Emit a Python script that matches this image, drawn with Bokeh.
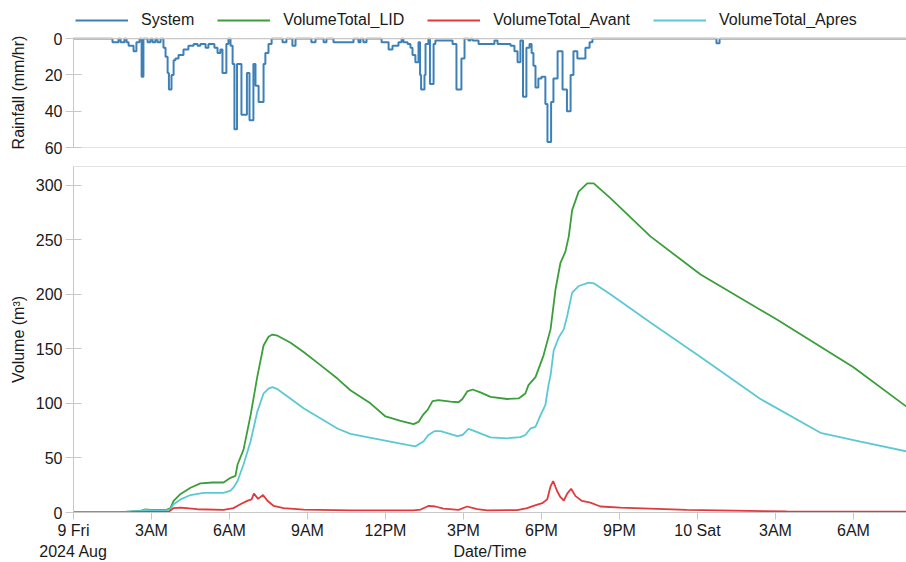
from bokeh.plotting import figure
from bokeh.layouts import column
from bokeh.models import (Range1d, FixedTicker, Legend, LegendItem, Span, LinearAxis)
from bokeh.embed import file_html
from bokeh.resources import INLINE

# ---------------- data (time in hours from 9 Aug 2024 00:00) ----------------
rain_t = [0, 1.50, 1.73, 1.81, 1.96, 2.04, 2.12, 2.31, 2.42, 2.54, 2.62, 2.69,
          2.85, 2.96, 3.04, 3.15, 3.23, 3.35, 3.46, 3.54, 3.62, 3.67, 3.77, 3.85,
          3.92, 4.04, 4.23, 4.42, 4.62, 4.77, 4.88, 5.08, 5.19, 5.42, 5.54, 5.65,
          5.73, 5.88, 5.96, 6.04, 6.12, 6.19, 6.29, 6.46, 6.67, 6.77, 6.92, 7.00,
          7.12, 7.31, 7.38, 7.50, 7.62,
          8.04, 8.19, 8.42, 8.54, 9.15, 9.31, 9.62, 9.73, 10.0, 10.77, 10.96,
          11.04, 11.15, 11.27,
          11.85, 12.12, 12.27, 12.50, 12.62, 12.69, 12.85, 12.96, 13.04, 13.15,
          13.27, 13.33, 13.37, 13.50, 13.54, 13.65, 13.71, 13.85, 13.92, 14.58,
          14.73, 14.92, 15.04, 15.19, 15.27, 15.35, 15.58, 16.04, 16.19, 16.31,
          16.81, 16.96, 17.08, 17.19, 17.29, 17.42, 17.54, 17.62, 17.69, 17.77,
          17.88, 18.00, 18.15, 18.23, 18.37, 18.46, 18.62, 18.81, 18.98, 19.12,
          19.23, 19.38, 19.69, 19.85, 19.96,
          24.73, 24.85, 32.04]
rain_v = [0, 2, 0, 2, 0, 2, 4, 7, 2, 0, 21, 0,
          2, 0, 2, 0, 2, 0, 5, 10, 19, 28, 20, 12,
          11, 9, 6, 4, 3, 4, 3, 5, 3, 5, 8, 6,
          19, 3, 0, 4, 14, 50, 14, 42, 19, 45, 14, 26,
          35, 14, 8, 3, 0,
          2, 0, 4, 0, 2, 0, 2, 0, 2, 0, 2,
          0, 2, 0,
          2, 6, 4, 2, 0, 2, 3, 5, 9, 13,
          2, 20, 28, 20, 3, 0, 25, 3, 1, 3,
          28, 11, 0, 1, 0, 1, 3, 3, 1, 3,
          4, 7, 13, 1, 32, 5, 3, 8, 15, 27,
          22, 21, 36, 57, 35, 22, 7, 28, 40, 20,
          7, 11, 5, 2, 0,
          2.5, 0, 0]

lid_t = [0, 1.81, 2.58, 2.77, 2.96, 3.58, 3.73, 3.85, 4.12, 4.50, 4.88, 5.35,
         5.77, 6.04, 6.23, 6.31, 6.54, 6.81, 7.07, 7.31, 7.50, 7.65, 7.85, 8.35,
         8.85, 9.50, 10.15, 10.65, 11.42, 12.00, 12.58, 13.08, 13.27, 13.46, 13.62,
         13.81, 14.04, 14.50, 14.81, 14.96, 15.15, 15.35, 15.65, 16.04, 16.68,
         17.12, 17.38, 17.50, 17.77, 18.08, 18.35, 18.54, 18.73, 18.92, 19.05,
         19.18, 19.43, 19.76, 20.01, 20.65, 22.19, 24.12, 27.04, 30.0, 32.04]
lid_v = [0, 0.3, 1.5, 2.8, 2.4, 2.4, 4, 10.6, 17, 22.7, 26.7, 27.5,
         27.5, 31.8, 33.5, 44, 57.6, 89, 124.5, 153, 161, 163, 162, 155.5,
         147, 135, 122.7, 112, 100, 88, 84, 81, 83, 90, 94,
         102, 103, 101.5, 101, 104, 111, 112.7, 110, 106, 104,
         104.5, 109, 116.7, 124, 144, 168, 204.5, 228.8, 239, 253,
         277, 294, 301.5, 301.5, 288, 253, 218, 177, 133, 97]

avant_t = [0, 2.19, 2.77, 3.65, 3.85, 4.12, 4.76, 5.77, 6.04, 6.15, 6.42, 6.68,
           6.85, 6.94, 7.10, 7.29, 7.45, 7.70, 8.08, 8.85, 10.65, 12.58, 13.08,
           13.35, 13.65, 13.92, 14.23, 14.81, 15.14, 15.53, 15.91, 17.07, 17.45,
           17.69, 18.03, 18.22, 18.35, 18.45, 18.60, 18.73, 18.86, 18.99, 19.14,
           19.31, 19.56, 19.88, 20.27, 21.04, 23.58, 27.42, 32.04]
avant_v = [0, 0.3, 0.6, 0.5, 4, 4.5, 3, 2.4, 3.5, 4, 7.6, 10.6,
           12, 17.3, 12.5, 16, 11, 6, 4, 2.6, 2, 2, 2,
           2.7, 6, 5.5, 3.6, 2.4, 5.5, 3, 2, 2.2, 4,
           6, 8.5, 12, 24, 28.8, 19.7, 14, 11, 17.3, 21.8,
           15, 10.6, 9, 5.5, 4.5, 2.4, 1, 0.7]

apres_t = [0, 1.81, 2.58, 2.77, 2.96, 3.58, 3.73, 3.85, 4.12, 4.50, 5.00, 5.77,
           6.04, 6.15, 6.31, 6.54, 6.81, 7.07, 7.31, 7.50, 7.65, 7.85, 8.85,
           10.15, 10.65, 11.54, 12.83, 13.15, 13.46, 13.65, 13.88, 14.12, 14.76,
           14.96, 15.19, 15.38, 16.04, 16.68, 17.19, 17.38, 17.58, 17.77, 17.96,
           18.15, 18.27, 18.35, 18.47, 18.67, 18.86, 18.99, 19.18, 19.43, 19.82,
           20.01, 20.65, 22.19, 24.12, 26.42, 28.73, 30.27, 32.04]
apres_v = [0, 0.3, 1.5, 2.5, 2, 2, 3, 7.6, 12, 16, 18, 18,
           20, 22.7, 28.8, 44, 65, 92.4, 109, 113.5, 114.8, 113, 95.5,
           77, 72, 68, 62, 60.6, 65, 71, 74.5, 74.5, 70,
           71, 76.7, 75, 68.8, 68, 69, 71, 77, 78.5, 89,
           98.5, 116.7, 125.7, 148.5, 160.6, 168, 180, 201.5, 207.5, 210.6,
           210, 200, 174, 142.5, 104, 73, 65, 56]

t_end = 32.04
tick_hours = [0, 3, 6, 9, 12, 15, 18, 21, 24, 27, 30]
tick_labels = ["9 Fri", "3AM", "6AM", "9AM", "12PM", "3PM", "6PM", "9PM",
               "10 Sat", "3AM", "6AM"]
context_label = "2024 Aug"
x_title = "Date/Time"
rain_ticks = [0, 20, 40, 60]
vol_ticks = [0, 50, 100, 150, 200, 250, 300]
series_names = ["System", "VolumeTotal_LID", "VolumeTotal_Avant", "VolumeTotal_Apres"]

# ---------------- styling ----------------
FONT = "Liberation Sans"
FS = "16px"
AX = "#c8c8c8"
TXT = "#1a1a1a"
C_SYS = "#3d80b8"
C_LID = "#3a9e3a"
C_AVANT = "#e03a3c"
C_APRES = "#5cc9d2"
colors = [C_SYS, C_LID, C_AVANT, C_APRES]

W = 906
LEFT = 73
xr = Range1d(0, t_end)


def style_axis(ax):
    ax.axis_line_color = AX
    ax.major_tick_line_color = AX
    ax.minor_tick_line_color = None
    ax.major_label_text_font = FONT
    ax.major_label_text_font_size = FS
    ax.major_label_text_color = TXT
    ax.axis_label_text_font = FONT
    ax.axis_label_text_font_size = FS
    ax.axis_label_text_font_style = "normal"
    ax.axis_label_text_color = TXT


def bare(p):
    p.outline_line_color = None
    p.xgrid.visible = False
    p.ygrid.visible = False


# ---------------- legend strip ----------------
p0 = figure(width=W, height=28, x_range=Range1d(0, 1), y_range=Range1d(0, 1),
            output_backend="svg", toolbar_location=None,
            x_axis_location=None, y_axis_location=None,
            min_border_left=LEFT, min_border_right=0, min_border_top=8,
            min_border_bottom=0)
bare(p0)
nan = float("nan")
dummies = [p0.line(x=[nan], y=[nan], line_color=c, line_width=2) for c in colors]
legend = Legend(items=[LegendItem(label=n, renderers=[r]) for n, r in zip(series_names, dummies)],
                orientation="horizontal", location="top_left",
                border_line_color=None, background_fill_alpha=0,
                label_text_font=FONT, label_text_font_size=FS,
                label_text_color=TXT, glyph_width=53, glyph_height=20,
                label_standoff=13, spacing=23, padding=0, margin=2)
legend.label_height = 20
p0.add_layout(legend, "center")

# ---------------- top: rainfall ----------------
p1 = figure(width=W, height=129, x_range=xr, y_range=Range1d(60, -0.6),
            output_backend="svg", toolbar_location=None, x_axis_location=None,
            min_border_left=LEFT, min_border_right=0, min_border_top=9,
            min_border_bottom=10)
bare(p1)
p1.yaxis.ticker = FixedTicker(ticks=rain_ticks)
p1.yaxis.axis_label = "Rainfall (mm/hr)"
style_axis(p1.yaxis)
p1.yaxis.major_tick_in = 8
p1.yaxis.major_tick_out = 8
p1.yaxis.major_label_standoff = 3
p1.yaxis.axis_label_standoff = 15
p1.add_layout(Span(location=60, dimension="width", line_color=AX, line_width=1.2))
p1.add_layout(Span(location=0, dimension="width", line_color=AX, line_width=1.2))
p1.step(rain_t, rain_v, mode="after", line_color=C_SYS, line_width=2)

# ---------------- bottom: volumes ----------------
p2 = figure(width=W, height=405, x_range=xr, y_range=Range1d(0, 317),
            output_backend="svg", toolbar_location=None,
            min_border_left=LEFT, min_border_right=0, min_border_top=9,
            min_border_bottom=48)
bare(p2)
p2.add_layout(Span(location=317, dimension="width", line_color=AX, line_width=1.2))
p2.yaxis.ticker = FixedTicker(ticks=vol_ticks)
p2.yaxis.axis_label = "Volume (m³)"
style_axis(p2.yaxis)
p2.yaxis.major_tick_in = 8
p2.yaxis.major_tick_out = 8
p2.yaxis.major_label_standoff = 3
p2.yaxis.axis_label_standoff = 6
p2.xaxis.ticker = FixedTicker(ticks=tick_hours)
p2.xaxis.major_label_overrides = {h: lab for h, lab in zip(tick_hours, tick_labels)}
style_axis(p2.xaxis)
p2.xaxis.major_tick_in = 0
p2.xaxis.major_tick_out = 7
p2.xaxis.major_label_standoff = 2
p2.xaxis.axis_label_standoff = 0

# second text row: context date at the first tick and the axis title at centre
mid = t_end / 2
ax2 = LinearAxis(ticker=FixedTicker(ticks=[0, mid]),
                 major_label_overrides={0: context_label, mid: x_title})
style_axis(ax2)
ax2.axis_line_color = None
ax2.major_tick_line_color = None
ax2.major_tick_out = 0
ax2.major_tick_in = 0
ax2.major_label_standoff = 1
ax2.axis_label_standoff = 0
p2.add_layout(ax2, "below")

p2.line(lid_t, lid_v, line_color=C_LID, line_width=1.8)
p2.line(apres_t, apres_v, line_color=C_APRES, line_width=1.8)
p2.line(avant_t, avant_v, line_color=C_AVANT, line_width=1.8)

layout = column(p0, p1, p2, spacing=0)
open("out.html", "w").write(file_html(layout, INLINE))
